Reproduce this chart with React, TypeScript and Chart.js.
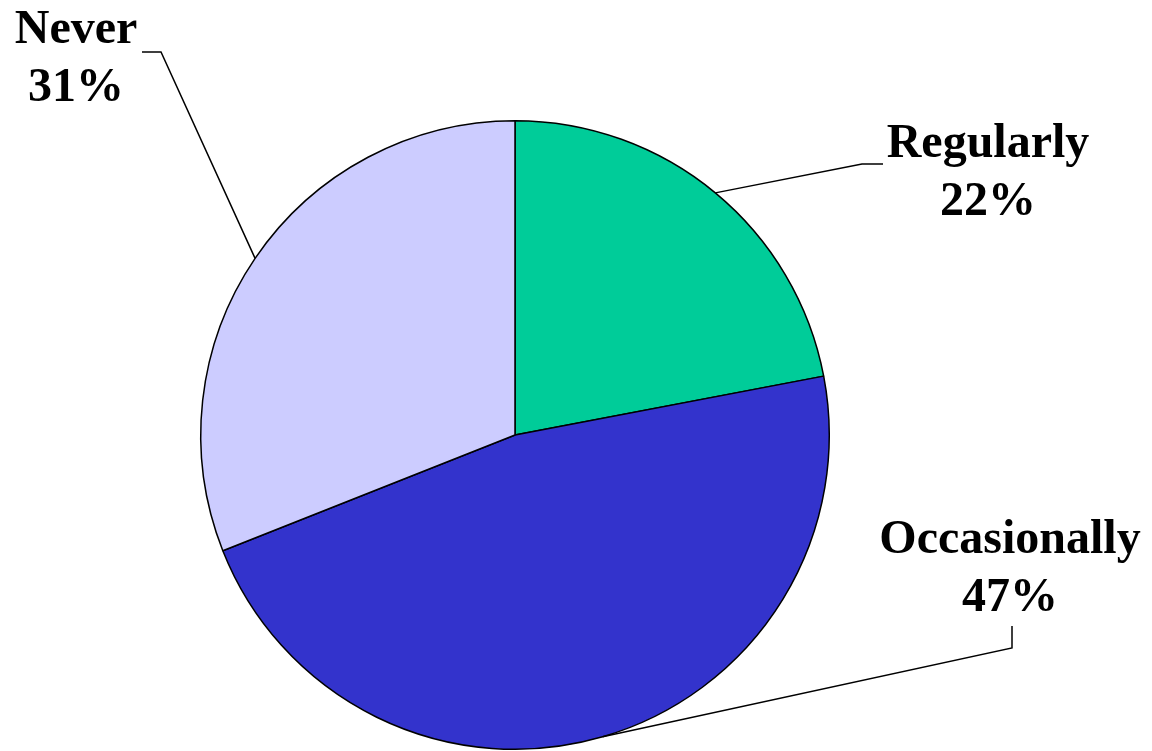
import React, { useEffect, useRef } from "react";
import { Chart, registerables } from "chart.js";

Chart.register(...registerables);

const categories = ["Regularly", "Occasionally", "Never"];
const percentValues = [22, 47, 31];
const sliceColors = ["#00CC99", "#3333CC", "#CCCCFF"];

// Label layout (text centre x, first baseline y, elbow point, end of leader)
const labelLayout = [
  { tx: 988, ty: 157, ex: 862, ey: 164, lx: 883, ly: 164 },
  { tx: 1010, ty: 553, ex: 1012, ey: 648, lx: 1012, ly: 626 },
  { tx: 76, ty: 43, ex: 161, ey: 52, lx: 142, ly: 52 },
];

const labelPlugin = {
  id: "pieLabels",
  afterDatasetsDraw(chart: any) {
    const ctx = chart.ctx;
    const meta = chart.getDatasetMeta(0);
    ctx.save();
    meta.data.forEach((arc: any, i: number) => {
      const { x, y, startAngle, endAngle, outerRadius } = arc.getProps(
        ["x", "y", "startAngle", "endAngle", "outerRadius"],
        true
      );
      const mid = (startAngle + endAngle) / 2;
      const ax = x + Math.cos(mid) * outerRadius;
      const ay = y + Math.sin(mid) * outerRadius;
      const L = labelLayout[i];
      ctx.strokeStyle = "#000";
      ctx.lineWidth = 1.5;
      ctx.beginPath();
      ctx.moveTo(ax, ay);
      ctx.lineTo(L.ex, L.ey);
      ctx.lineTo(L.lx, L.ly);
      ctx.stroke();
      ctx.fillStyle = "#000";
      ctx.font = 'bold 48px "Liberation Serif", "Times New Roman", serif';
      ctx.textAlign = "center";
      ctx.textBaseline = "alphabetic";
      ctx.fillText(categories[i], L.tx, L.ty);
      ctx.fillText(percentValues[i] + "%", L.tx, L.ty + 58);
    });
    ctx.restore();
  },
};

export default function App() {
  const ref = useRef<HTMLCanvasElement>(null);
  useEffect(() => {
    if (!ref.current) return;
    const chart = new Chart(ref.current, {
      type: "pie",
      data: {
        labels: categories,
        datasets: [
          {
            data: percentValues,
            backgroundColor: sliceColors,
            borderColor: "#000000",
            borderWidth: 1.5,
            hoverOffset: 0,
          },
        ],
      },
      options: {
        responsive: false,
        animation: false,
        layout: { padding: { top: 120, bottom: 1, left: 200, right: 322 } },
        plugins: {
          legend: { display: false },
          tooltip: { enabled: false },
          title: { display: false },
        },
      },
      plugins: [labelPlugin],
    });
    return () => chart.destroy();
  }, []);
  return (
    <div style={{ position: "absolute", left: 0, top: 0, width: 1152, height: 751, background: "#fff" }}>
      <canvas ref={ref} width={1152} height={751} />
    </div>
  );
}
